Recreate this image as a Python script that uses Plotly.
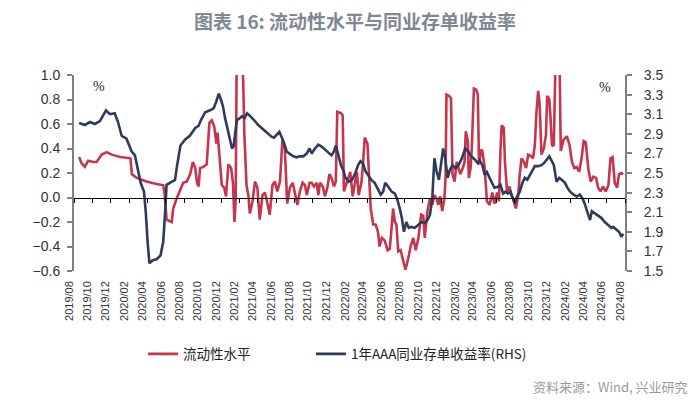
import plotly.graph_objects as go

# 流动性水平 (left axis)
liq_dates = [
    "2019-08-18","2019-08-26","2019-09-06","2019-09-17","2019-10-04","2019-10-15","2019-11-01","2019-11-17",
    "2019-12-04","2019-12-20","2020-01-01","2020-02-04","2020-02-09","2020-02-25","2020-03-28","2020-05-01",
    "2020-05-23","2020-05-28","2020-06-03","2020-06-20","2020-06-25","2020-07-06","2020-07-17","2020-07-28",
    "2020-08-09","2020-08-20","2020-08-29","2020-09-06","2020-09-12","2020-09-17","2020-09-22","2020-10-03",
    "2020-10-14","2020-10-23","2020-10-31","2020-11-08","2020-11-15","2020-11-19","2020-11-26","2020-12-03",
    "2020-12-11","2020-12-17","2020-12-25","2021-01-03","2021-01-09","2021-01-14","2021-01-18","2021-01-22",
    "2021-02-05","2021-02-12","2021-02-16","2021-02-23","2021-03-01","2021-03-06","2021-03-15","2021-03-23",
    "2021-03-31","2021-04-08","2021-04-17","2021-04-25","2021-05-02","2021-05-11","2021-05-20","2021-05-28",
    "2021-06-05","2021-06-14","2021-06-22","2021-06-30","2021-07-08","2021-07-17","2021-07-26","2021-08-03",
    "2021-08-11","2021-08-19","2021-08-28","2021-09-05","2021-09-11","2021-09-20","2021-09-27","2021-10-05",
    "2021-10-14","2021-10-19","2021-10-25","2021-11-03","2021-11-10","2021-11-18","2021-11-25","2021-12-02",
    "2021-12-10","2021-12-16","2021-12-21","2022-01-02","2022-01-08","2022-01-12","2022-01-22","2022-01-27",
    "2022-02-02","2022-02-10","2022-02-17","2022-02-24","2022-03-02","2022-03-11","2022-03-16","2022-03-22",
    "2022-03-31","2022-04-06","2022-04-11","2022-04-19","2022-04-27","2022-05-05","2022-05-10","2022-05-18",
    "2022-05-27","2022-06-06","2022-06-13","2022-06-19","2022-06-24","2022-06-30","2022-07-05","2022-07-11",
    "2022-07-19","2022-07-27","2022-08-04","2022-08-13","2022-08-22","2022-08-30","2022-09-07","2022-09-16",
    "2022-09-25","2022-10-02","2022-10-07","2022-10-16","2022-10-24","2022-11-01","2022-11-08","2022-11-15",
    "2022-11-21","2022-11-27","2022-12-04","2022-12-11","2022-12-15","2022-12-18","2022-12-26","2023-01-02",
    "2023-01-07","2023-01-14","2023-01-21","2023-01-27","2023-02-02","2023-02-10","2023-02-16","2023-02-20",
    "2023-02-27","2023-03-02","2023-03-08","2023-03-12","2023-03-19","2023-03-27","2023-04-01","2023-04-05",
    "2023-04-12","2023-04-16","2023-04-24","2023-05-01","2023-05-10","2023-05-19","2023-05-26","2023-06-04",
    "2023-06-10","2023-06-15","2023-06-19","2023-06-26","2023-06-30","2023-07-07","2023-07-15","2023-07-21",
    "2023-07-29","2023-08-05","2023-08-13","2023-08-18","2023-08-24","2023-09-01","2023-09-08","2023-09-15",
    "2023-09-23","2023-10-01","2023-10-07","2023-10-12","2023-10-18","2023-10-23","2023-10-29","2023-11-06",
    "2023-11-13","2023-11-17","2023-11-24","2023-11-28","2023-12-03","2023-12-09","2023-12-16","2023-12-27",
    "2024-01-01","2024-01-10","2024-01-21","2024-01-30","2024-02-07","2024-02-15","2024-02-23","2024-03-02",
    "2024-03-10","2024-03-17","2024-03-24","2024-04-01","2024-04-09","2024-04-18","2024-04-27","2024-05-04",
    "2024-05-12","2024-05-20","2024-05-29","2024-06-07","2024-06-14","2024-06-21","2024-06-28","2024-07-06",
    "2024-07-12","2024-07-20","2024-07-26",
]
liq_values = [
    0.33,0.28,0.25,0.30,0.29,0.29,0.35,0.37,
    0.35,0.34,0.33,0.32,0.19,0.16,0.13,0.11,
    0.10,0.02,-0.18,-0.20,-0.09,-0.01,0.05,0.12,
    0.13,0.19,0.29,0.24,0.12,0.09,0.24,0.25,
    0.27,0.61,0.63,0.58,0.44,0.53,0.32,0.10,
    0.08,0.01,0.27,0.24,0.12,-0.20,-0.03,1.30,
    1.30,0.95,0.51,0.10,0.02,-0.13,-0.03,0.13,
    0.08,-0.18,0.02,0.04,-0.03,-0.14,0.10,0.13,
    0.05,0.13,0.47,0.40,-0.05,0.08,0.12,0.02,
    -0.06,0.05,0.12,0.10,0.02,0.12,0.12,0.09,
    0.12,0.02,0.12,0.09,0.01,0.08,0.19,0.16,
    0.09,0.13,0.70,0.69,0.67,0.05,0.13,0.16,
    0.21,0.01,0.10,0.21,0.02,0.12,0.27,0.49,
    0.44,0.19,-0.09,-0.22,-0.22,-0.28,-0.40,-0.33,
    -0.35,-0.43,-0.42,-0.25,-0.09,-0.20,-0.22,-0.44,
    -0.43,-0.51,-0.59,-0.50,-0.39,-0.33,-0.43,-0.33,
    -0.14,-0.15,-0.33,-0.11,-0.01,-0.06,0.02,-0.01,
    -0.06,0.01,-0.11,-0.01,0.16,0.84,0.83,0.81,
    0.19,0.13,0.29,0.24,0.19,0.24,0.29,0.54,
    0.46,0.16,0.24,0.40,0.89,0.88,0.84,0.27,
    0.39,0.38,0.24,-0.03,-0.06,0.04,-0.05,0.04,
    -0.03,0.38,0.59,0.57,0.29,0.05,0.09,0.02,
    -0.02,-0.09,0.02,0.19,0.32,0.29,0.24,0.35,
    0.34,0.32,0.43,0.68,0.87,0.76,0.35,0.40,
    0.51,0.83,0.80,0.65,0.42,0.43,1.30,1.30,
    0.38,0.47,0.50,0.43,0.29,0.24,0.25,0.21,
    0.32,0.46,0.45,0.24,0.13,0.17,0.16,0.08,
    0.05,0.09,0.05,0.10,0.32,0.33,0.12,0.08,
    0.19,0.20,0.19,
]

# 1年AAA同业存单收益率 (right axis, %)
ncd_dates = [
    "2019-08-18","2019-09-06","2019-09-23","2019-10-09","2019-10-26","2019-11-06","2019-11-15","2019-11-28",
    "2019-12-14","2019-12-25","2020-01-06","2020-01-22","2020-02-08","2020-02-19","2020-03-01","2020-03-09",
    "2020-03-20","2020-03-26","2020-04-01","2020-04-07","2020-04-18","2020-05-01","2020-05-14","2020-05-23",
    "2020-05-29","2020-06-03","2020-06-14","2020-07-01","2020-07-08","2020-07-19","2020-08-03","2020-08-19",
    "2020-09-06","2020-09-17","2020-09-25","2020-10-09","2020-10-25","2020-11-06","2020-11-15","2020-11-23",
    "2020-11-28","2020-12-07","2020-12-14","2020-12-22","2020-12-31","2021-01-06","2021-01-11","2021-01-17",
    "2021-01-22","2021-02-01","2021-02-08","2021-02-16","2021-02-25","2021-03-04","2021-03-12","2021-03-23",
    "2021-04-03","2021-04-14","2021-04-25","2021-05-06","2021-05-17","2021-05-25","2021-06-03","2021-06-12",
    "2021-06-19","2021-06-27","2021-07-06","2021-07-17","2021-07-28","2021-08-08","2021-08-19","2021-08-30",
    "2021-09-11","2021-09-20","2021-09-27","2021-10-08","2021-10-19","2021-10-30","2021-11-10","2021-11-21",
    "2021-12-02","2021-12-10","2021-12-16","2021-12-24","2022-01-02","2022-01-11","2022-01-16","2022-01-27",
    "2022-02-08","2022-02-19","2022-02-28","2022-03-08","2022-03-16","2022-03-24","2022-04-02","2022-04-13",
    "2022-04-24","2022-05-05","2022-05-14","2022-05-22","2022-05-29","2022-06-08","2022-06-19","2022-06-30",
    "2022-07-08","2022-07-16","2022-07-23","2022-07-30","2022-08-07","2022-08-15","2022-08-24","2022-09-04",
    "2022-09-15","2022-09-26","2022-10-07","2022-10-16","2022-10-24","2022-11-01","2022-11-08","2022-11-15",
    "2022-11-23","2022-12-02","2022-12-07","2022-12-13","2022-12-22","2022-12-29","2023-01-07","2023-01-16",
    "2023-01-27","2023-02-07","2023-02-18","2023-02-28","2023-03-10","2023-03-21","2023-04-01","2023-04-07",
    "2023-04-16","2023-04-24","2023-05-01","2023-05-10","2023-05-19","2023-05-26","2023-06-07","2023-06-15",
    "2023-06-24","2023-07-02","2023-07-10","2023-07-18","2023-07-24","2023-08-01","2023-08-09","2023-08-18",
    "2023-08-27","2023-09-04","2023-09-12","2023-09-20","2023-09-29","2023-10-07","2023-10-18","2023-10-29",
    "2023-11-06","2023-11-15","2023-11-24","2023-12-01","2023-12-09","2023-12-18","2023-12-27","2024-01-04",
    "2024-01-15","2024-01-23","2024-02-01","2024-02-12","2024-02-23","2024-03-04","2024-03-13","2024-03-20",
    "2024-03-28","2024-04-07","2024-04-13","2024-04-23","2024-05-04","2024-05-15","2024-05-26","2024-06-07",
    "2024-06-17","2024-06-23","2024-07-04","2024-07-12","2024-07-20","2024-07-26",
]
ncd_values = [
    3.01,2.99,3.02,3.00,3.03,3.10,3.14,3.10,
    3.11,3.02,2.88,2.85,2.72,2.68,2.52,2.40,
    2.31,2.10,1.80,1.58,1.61,1.62,1.66,1.80,
    2.10,2.38,2.40,2.43,2.58,2.78,2.84,2.88,
    2.96,2.98,3.04,3.12,3.14,3.16,3.23,3.31,
    3.27,3.18,3.06,2.94,2.81,2.75,2.77,2.89,
    3.04,3.06,3.08,3.06,3.11,3.09,3.06,3.03,
    2.99,2.96,2.92,2.90,2.87,2.86,2.89,2.92,
    2.87,2.81,2.72,2.69,2.67,2.66,2.67,2.67,
    2.70,2.75,2.70,2.75,2.79,2.77,2.74,2.70,
    2.68,2.72,2.78,2.69,2.58,2.52,2.46,2.41,
    2.43,2.50,2.58,2.62,2.60,2.52,2.48,2.43,
    2.40,2.33,2.28,2.31,2.40,2.36,2.31,2.29,
    2.23,2.14,2.04,1.90,2.00,1.94,1.95,1.94,
    1.97,2.00,1.99,2.02,2.07,2.24,2.65,2.52,
    2.43,2.65,2.75,2.67,2.45,2.53,2.58,2.55,
    2.58,2.65,2.75,2.72,2.67,2.64,2.60,2.63,
    2.58,2.48,2.51,2.45,2.40,2.35,2.36,2.38,
    2.29,2.31,2.29,2.31,2.26,2.19,2.26,2.31,
    2.40,2.45,2.43,2.48,2.52,2.57,2.57,2.58,
    2.60,2.63,2.67,2.63,2.58,2.41,2.45,2.43,
    2.40,2.35,2.31,2.28,2.26,2.28,2.24,2.19,
    2.12,2.02,2.11,2.09,2.07,2.04,2.00,1.97,
    1.94,1.95,1.92,1.90,1.85,1.88,
]

left_range = [-0.6, 1.0]
right_range = [1.5, 3.5]
x_range = ["2019-08-01", "2024-08-01"]

RED = "#C6354E"
NAVY = "#2F3B5A"
TICKFONT = dict(family="Liberation Sans, Arial, sans-serif", size=14, color="#333333")
LEGFONT = dict(family="Noto Sans CJK SC", size=13.5, color="#222222")

fig = go.Figure()
fig.add_trace(go.Scatter(x=liq_dates, y=liq_values, name="流动性水平", mode="lines",
                         line=dict(color=RED, width=2.6), xaxis="x", yaxis="y", legend="legend"))
fig.add_trace(go.Scatter(x=ncd_dates, y=ncd_values, name="1年AAA同业存单收益率(RHS)", mode="lines",
                         line=dict(color=NAVY, width=2.6), xaxis="x", yaxis="y2", legend="legend2"))
# carrier for the zero-line x axis (no visible marks)
fig.add_trace(go.Scatter(x=x_range, y=[None, None], mode="lines", xaxis="x2", yaxis="y",
                         showlegend=False, hoverinfo="skip"))

zero_pos = (0 - left_range[0]) / (left_range[1] - left_range[0])

fig.update_layout(
    width=700, height=404,
    margin=dict(l=66, r=83, t=67, b=141),
    paper_bgcolor="white", plot_bgcolor="white",
    title=dict(text="图表 16: 流动性水平与同业存单收益率", x=0.51, xref="paper", xanchor="center",
               y=1 - 14 / 404, yanchor="middle",
               font=dict(family="Noto Sans CJK SC", size=19, color="#7F8795", weight=700)),
    xaxis=dict(type="date", range=x_range, tick0="2019-08-01", dtick="M2", tickformat="%Y/%m",
               tickangle=-90, showgrid=False, showline=False, ticks="", zeroline=False,
               tickfont=dict(family="Liberation Sans, Arial, sans-serif", size=11, color="#333333"),
               ticklabelstandoff=7, ticklabelshift=-5),
    xaxis2=dict(type="date", overlaying="x", anchor="free", position=zero_pos,
                range=x_range, tick0="2019-08-01", dtick="M2", showticklabels=False,
                showgrid=False, zeroline=False, showline=True, linecolor="#000000", linewidth=1,
                ticks="outside", ticklen=4, tickcolor="#000000", tickwidth=1),
    yaxis=dict(range=left_range, dtick=0.2, tick0=0, tickformat=".1f", showgrid=False, zeroline=False,
               showline=True, linecolor="#808080", linewidth=2, ticks="outside", ticklen=5,
               tickcolor="#808080", tickwidth=1.5, tickfont=TICKFONT, ticklabelstandoff=4),
    yaxis2=dict(range=right_range, dtick=0.2, tick0=1.5, tickformat=".1f", overlaying="y", side="right",
                showgrid=False, zeroline=False, showline=True, linecolor="#808080", linewidth=2,
                ticks="outside", ticklen=5, tickcolor="#808080", tickwidth=1.5, tickfont=TICKFONT,
                ticklabelstandoff=9),
    legend=dict(orientation="h", x=0.1254, xanchor="left", y=-0.345, yanchor="top",
                font=LEGFONT, itemwidth=30, bgcolor="rgba(0,0,0,0)"),
    legend2=dict(orientation="h", x=0.430, xanchor="left", y=-0.345, yanchor="top",
                 font=LEGFONT, itemwidth=30, bgcolor="rgba(0,0,0,0)"),
    annotations=[
        dict(text="%", xref="paper", yref="paper", x=0.045, y=0.939, showarrow=False,
             xanchor="center", yanchor="middle",
             font=dict(family="Liberation Serif, serif", size=14, color="#222222")),
        dict(text="%", xref="paper", yref="paper", x=0.964, y=0.934, showarrow=False,
             xanchor="center", yanchor="middle",
             font=dict(family="Liberation Serif, serif", size=14, color="#222222")),
        dict(text="资料来源：Wind, 兴业研究", xref="paper", yref="paper", x=1.118, y=-0.587,
             xanchor="right", yanchor="middle", showarrow=False,
             font=dict(family="Noto Sans CJK SC", size=13, color="#9A9A9A")),
    ],
)

fig.write_html("out.html")
